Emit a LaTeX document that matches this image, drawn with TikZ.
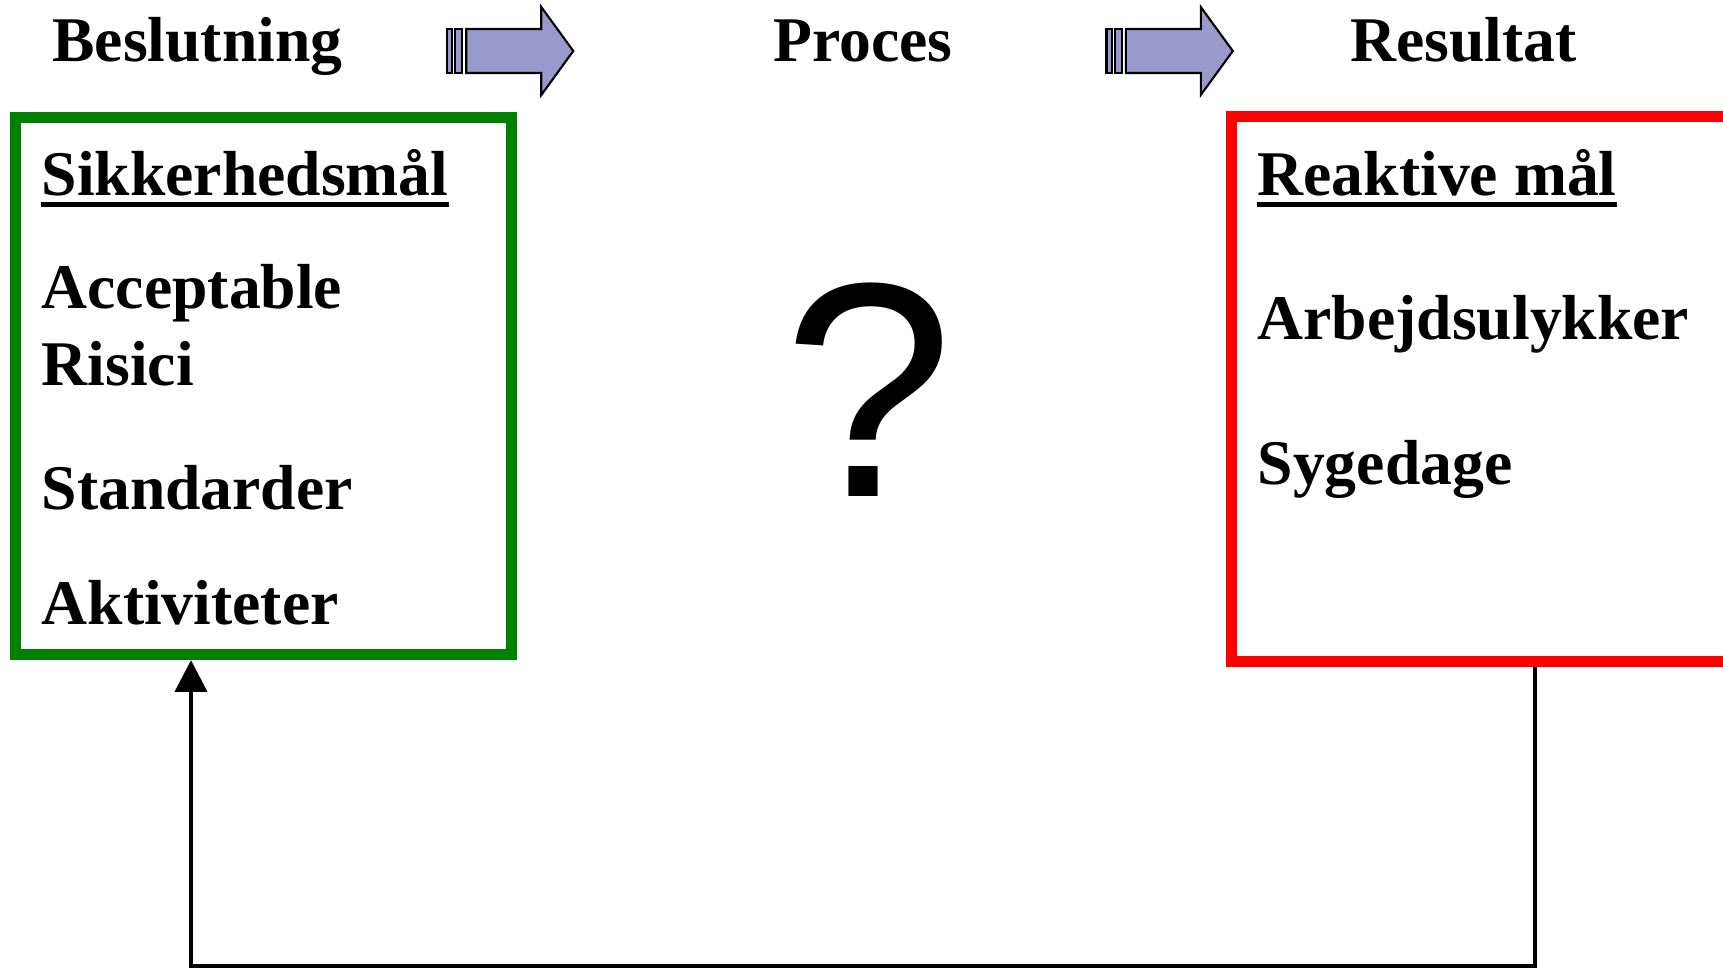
\documentclass[tikz,border=0pt]{standalone}
\usepackage{fontspec}
\setmainfont{Liberation Serif}
\newfontfamily\qfont{Liberation Sans}
\usetikzlibrary{arrows.meta}
\definecolor{goalgreen}{RGB}{0,128,0}
\definecolor{resultred}{RGB}{255,0,0}
\definecolor{flowblue}{RGB}{153,153,204}
\begin{document}
\begin{tikzpicture}[x=0.01cm,y=-0.01cm,
		txt/.style={anchor=base west,inner sep=0pt,font=\fontsize{18.1}{22}\selectfont\bfseries},
		boxframe/.style={draw=#1,line width=3.1pt,minimum width=4.96cm},
		flowarrow/.style={draw=black,fill=flowblue,line width=0.6pt},
		uline/.style={line width=1.3pt},
		feedback/.style={line width=1.3pt}]
			\clip (0,0) rectangle (1723,970);
			\coordinate (fbr) at (1535,966);
			\coordinate (fbl) at (191,966);
			\node[boxframe=goalgreen,minimum height=5.37cm] (decide) at (263.5,386) {};
			\node[boxframe=resultred,minimum height=5.45cm] (result) at (1480,389) {};
			\node[txt] (beslut) at (51.6,61.5) {Beslutning};
			\node[txt] (proces) at (772.5,61.5) {Proces};
			\node[txt] (resultat) at (1349.5,61.5) {Resultat};
			\foreach \x in {447,1106.5} {
				\begin{scope}[shift={(\x,0)}]
					\draw[flowarrow] (0,29) rectangle (5.3,73);
					\draw[flowarrow] (8.3,29) rectangle (15.3,73);
					\draw[flowarrow] (19.3,29) -- (94.3,29) -- (94.3,7) -- (126.3,51) -- (94.3,95) -- (94.3,73) -- (19.3,73) -- cycle;
				\end{scope}
			}
			\node[txt] (sikker) at (41,195.6) {Sikkerhedsmål};
			\node[txt] (accept) at (41,309) {Acceptable};
			\node[txt] (risici) at (41,386) {Risici};
			\node[txt] (standard) at (41,509) {Standarder};
			\node[txt] (aktiv) at (41,624) {Aktiviteter};
			\draw[uline] ([yshift=-2.5pt]sikker.base west) -- ([yshift=-2.5pt]sikker.base east);
			\node[txt] (reaktiv) at (1257,195.6) {Reaktive mål};
			\node[txt] (ulykker) at (1257,339.6) {Arbejdsulykker};
			\node[txt] (syge) at (1257,484.6) {Sygedage};
			\draw[uline] ([yshift=-2.5pt]reaktiv.base west) -- ([yshift=-2.5pt]reaktiv.base east);
			\node[anchor=base,inner sep=0pt,font=\qfont\fontsize{87}{90}\selectfont] (spm) at (869,496.7) {?};
			\draw[feedback,-{Triangle[length=9pt,width=9pt]}] (result.south -| fbr) -- (fbr) -- (fbl) -- (decide.south -| fbl);
		\end{tikzpicture}
\end{document}
